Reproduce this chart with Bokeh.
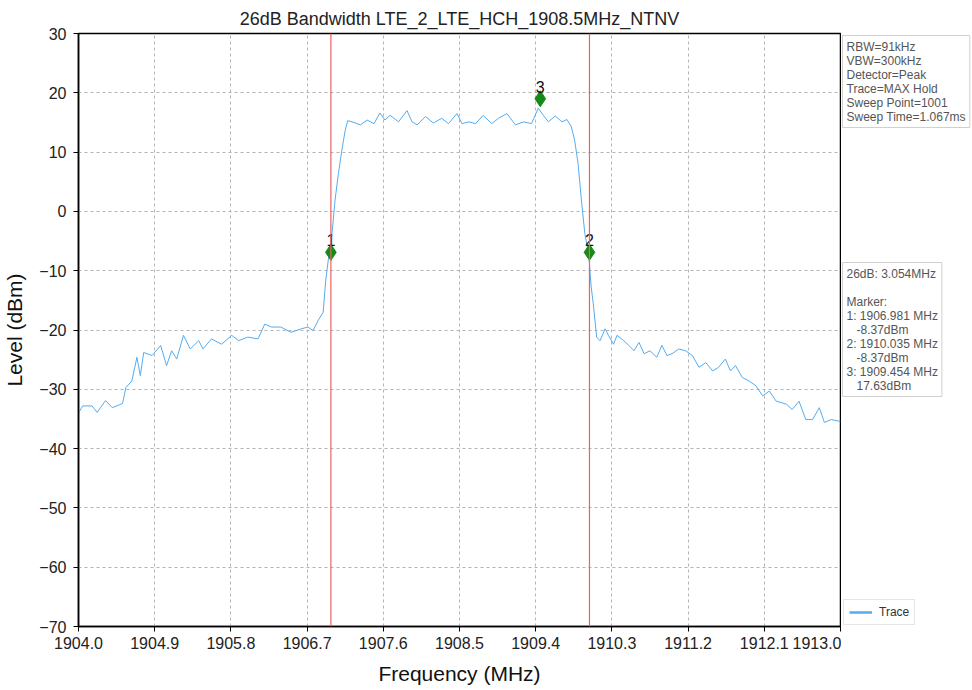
from bokeh.plotting import figure
from bokeh.layouts import row
from bokeh.models import (Range1d, FixedTicker, PrintfTickFormatter, CustomJSTickFormatter,
                          Span, Label, Legend, LegendItem)
from bokeh.core.properties import value
from bokeh.embed import file_html
from bokeh.resources import INLINE

# ---------------- data ----------------
title_text = "26dB Bandwidth LTE_2_LTE_HCH_1908.5MHz_NTNV"

trace_freq = [
    1904.00, 1904.05, 1904.16, 1904.22, 1904.32, 1904.40, 1904.52, 1904.56, 1904.63, 1904.69,
    1904.73, 1904.77, 1904.87, 1904.97, 1905.04, 1905.10, 1905.16, 1905.24, 1905.32, 1905.42,
    1905.47, 1905.57, 1905.69, 1905.81, 1905.89, 1906.00, 1906.12, 1906.20, 1906.28, 1906.39,
    1906.51, 1906.63, 1906.71, 1906.77, 1906.83, 1906.89, 1906.92, 1906.96, 1906.98, 1907.03,
    1907.07, 1907.11, 1907.15, 1907.18, 1907.23, 1907.33, 1907.41, 1907.49, 1907.56, 1907.62,
    1907.68, 1907.78, 1907.88, 1907.94, 1908.00, 1908.10, 1908.19, 1908.29, 1908.37, 1908.47,
    1908.53, 1908.61, 1908.69, 1908.78, 1908.88, 1908.96, 1909.06, 1909.16, 1909.26, 1909.35,
    1909.43, 1909.49, 1909.55, 1909.63, 1909.71, 1909.77, 1909.82, 1909.86, 1909.90, 1909.94,
    1909.98, 1910.03, 1910.04, 1910.055, 1910.08, 1910.12, 1910.16, 1910.22, 1910.26, 1910.32,
    1910.36, 1910.44, 1910.50, 1910.56, 1910.62, 1910.68, 1910.75, 1910.83, 1910.89, 1910.95,
    1911.01, 1911.09, 1911.17, 1911.25, 1911.33, 1911.41, 1911.49, 1911.56, 1911.64, 1911.70,
    1911.76, 1911.84, 1911.92, 1912.00, 1912.08, 1912.16, 1912.24, 1912.36, 1912.43, 1912.51,
    1912.59, 1912.67, 1912.75, 1912.81, 1912.89, 1912.99, 1913.00,
]
trace_level = [
    -34.0, -32.8, -32.8, -33.9, -31.9, -33.1, -32.4, -29.7, -28.6, -24.6,
    -27.7, -23.8, -24.3, -22.6, -26.0, -23.5, -24.9, -20.9, -23.2, -21.8,
    -23.2, -21.5, -22.4, -20.9, -21.8, -21.2, -21.5, -19.0, -19.5, -19.5,
    -20.4, -19.8, -19.5, -20.1, -18.4, -17.0, -11.6, -7.1, -6.0, 1.9,
    6.4, 10.3, 13.7, 15.3, 15.1, 14.6, 15.4, 14.8, 16.6, 15.4,
    16.2, 15.1, 17.0, 15.1, 14.6, 16.0, 14.9, 15.7, 14.8, 16.5,
    14.8, 15.1, 14.8, 16.2, 14.8, 15.7, 16.5, 14.6, 15.1, 14.8,
    17.4, 16.2, 15.1, 16.1, 15.1, 15.5, 14.3, 12.0, 8.1, 1.9,
    -3.7, -7.6, -9.9, -12.7, -15.6, -21.2, -21.8, -19.8, -20.9, -22.4,
    -20.9, -21.8, -22.6, -23.5, -22.1, -24.0, -23.5, -24.6, -22.6, -24.3,
    -24.0, -23.2, -23.5, -24.3, -26.3, -25.5, -26.9, -26.3, -24.9, -26.9,
    -26.0, -28.0, -28.6, -29.4, -31.1, -30.3, -32.0, -32.5, -33.4, -32.0,
    -35.1, -35.1, -33.1, -35.6, -35.1, -35.4, -35.4,
]

marker_ids = ["1", "2", "3"]
marker_freq = [1906.981, 1910.035, 1909.454]
marker_level_text = [-8.37, -8.37, 17.63]
marker_plot_level = [-6.9, -6.9, 19.0]
bandwidth_mhz = 3.054

x_ticks = [1904.0, 1904.9, 1905.8, 1906.7, 1907.6, 1908.5, 1909.4, 1910.3, 1911.2, 1912.1, 1913.0]
y_ticks = [-70, -60, -50, -40, -30, -20, -10, 0, 10, 20, 30]

settings_lines = ["RBW=91kHz", "VBW=300kHz", "Detector=Peak", "Trace=MAX Hold",
                  "Sweep Point=1001", "Sweep Time=1.067ms"]

# ---------------- figure ----------------
FONT = "Liberation Sans"
H = 690
FRAME_TOP, FRAME_BOTTOM = 33, 626
TRACE_COLOR = "#55acef"

p = figure(width=841, height=H, output_backend="svg", toolbar_location=None,
           x_range=Range1d(1904.0, 1913.0), y_range=Range1d(-70, 30),
           min_border_left=76, min_border_right=1, min_border_top=FRAME_TOP,
           min_border_bottom=H - FRAME_BOTTOM, title=title_text)
p.title.align = "center"
p.title.text_font = FONT
p.title.text_font_size = "18px"
p.title.text_font_style = "normal"
p.title.text_color = "#222222"

p.outline_line_color = "black"
p.outline_line_width = 1.5
p.background_fill_color = "white"
p.border_fill_color = "white"

for ax in (p.xaxis[0], p.yaxis[0]):
    ax.axis_line_color = "black"
    ax.axis_line_width = 1.5
    ax.major_tick_line_color = "black"
    ax.major_tick_out = 5
    ax.major_tick_in = 0
    ax.minor_tick_line_color = None
    ax.major_label_text_font = FONT
    ax.major_label_text_font_size = "16px"
    ax.major_label_text_color = "#222222"
    ax.axis_label_text_font = FONT
    ax.axis_label_text_font_size = "21px"
    ax.axis_label_text_font_style = "normal"
    ax.axis_label_text_color = "#111111"

p.xaxis.ticker = FixedTicker(ticks=x_ticks)
p.xaxis.formatter = PrintfTickFormatter(format="%.1f")
p.xaxis.axis_label = "Frequency (MHz)"
p.xaxis.major_label_standoff = 5
p.xaxis.axis_label_standoff = 10

p.yaxis.ticker = FixedTicker(ticks=y_ticks)
p.yaxis.formatter = CustomJSTickFormatter(code="return tick.toFixed(0).replace('-', '\u2212');")
p.yaxis.axis_label = "Level (dBm)"
p.yaxis.major_label_standoff = 7
p.yaxis.axis_label_standoff = 10

p.grid.grid_line_color = "#b4b4b4"
p.grid.grid_line_dash = "3 3"
p.grid.grid_line_width = 1

# trace
trace_r = p.line(trace_freq, trace_level, line_color=TRACE_COLOR, line_width=1)

# red bandwidth lines
for f in marker_freq[:2]:
    p.add_layout(Span(location=f, dimension="height", line_color="#f06060", line_width=1.2))

# markers
p.scatter(marker_freq, marker_plot_level, marker="diamond", size=16,
          fill_color="#168a16", line_color="#168a16")
p.text(marker_freq, marker_plot_level, text=marker_ids, text_align="center",
       text_baseline="bottom", y_offset=-6, text_font=value(FONT),
       text_font_size="16px", text_color="#111111")

# ---------------- side panel with info boxes and legend ----------------
# its frame is aligned with the main frame; y data units = page pixel rows
side = figure(width=131, height=H, output_backend="svg", toolbar_location=None,
              x_range=Range1d(0, 131), y_range=Range1d(FRAME_BOTTOM, FRAME_TOP),
              min_border_left=0, min_border_right=0,
              min_border_top=FRAME_TOP, min_border_bottom=H - FRAME_BOTTOM)
side.axis.visible = False
side.grid.visible = False
side.outline_line_color = None
side.background_fill_color = "white"
side.border_fill_color = "white"

box_style = dict(text_font=FONT, text_font_size="12px",
                 text_color="#555555", text_align="left", text_baseline="top",
                 text_line_height=1.0, background_fill_color="white",
                 border_line_color="#d0d0d0", border_line_width=1, padding=4)
side.add_layout(Label(x=1, y=35, text="\n".join(settings_lines), **box_style))

marker_lines = [f"26dB: {bandwidth_mhz:.3f}MHz", "", "Marker:"]
for mid, f, lv in zip(marker_ids, marker_freq, marker_level_text):
    marker_lines.append(f"{mid}: {f:.3f} MHz")
    marker_lines.append("\u00a0\u00a0\u00a0" + f"{lv:.2f}dBm")
side.add_layout(Label(x=1, y=262, text="\n".join(marker_lines), **box_style))

# legend proxy (the trace data lies outside this panel's range, so only the legend shows it)
legend_r = side.line(trace_freq, trace_level, line_color=TRACE_COLOR, line_width=2.5)
legend = Legend(items=[LegendItem(label="Trace", renderers=[legend_r])],
                location=(2, 1), label_text_font=FONT, label_text_font_size="12px",
                label_text_color="#333333", glyph_width=23, glyph_height=12,
                label_standoff=7, padding=5, spacing=0, margin=0,
                border_line_color="#cccccc",
                background_fill_color="white", background_fill_alpha=1)
side.add_layout(legend)

layout = row(p, side, spacing=0)
open("out.html", "w").write(file_html(layout, INLINE))
